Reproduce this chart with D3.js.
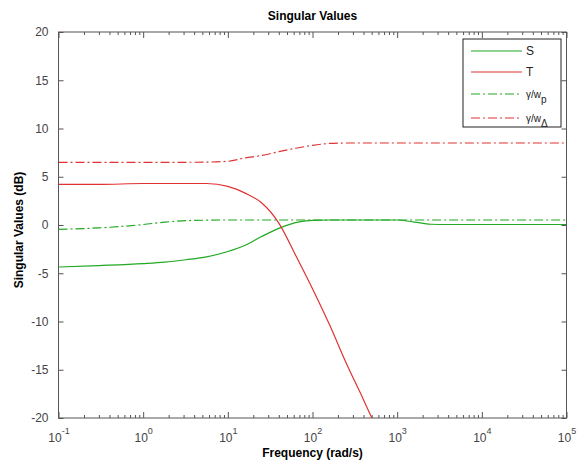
<!DOCTYPE html>
<html>
<head>
<meta charset="utf-8">
<script src="https://cdn.jsdelivr.net/npm/d3@7"></script>
<style>
  body { margin: 0; background: #fff; }
  svg text { font-family: "Liberation Sans", Arial, sans-serif; }
</style>
</head>
<body>
<div id="chart"></div>
<script>
// frequencies in rad/s, shared by all four curves
const freq = [0.1, 0.3, 1, 1.8, 3.2, 5.6, 10, 16, 25, 40, 63, 100, 160, 250, 400, 630, 1000, 1600, 2500, 4000, 10000, 100000]

// singular values in dB
const sVals   = [-4.35, -4.2, -4.0, -3.85, -3.6, -3.3, -2.75, -2.1, -1.2, -0.35, 0.25, 0.48, 0.52, 0.52, 0.52, 0.52, 0.52, 0.3, 0.08, 0.05, 0.05, 0.05]
const tVals   = [4.2, 4.2, 4.3, 4.3, 4.3, 4.3, 4.0, 3.3, 2.3, 0.2, -3.1, -6.6, -10.4, -14.3, -18.1, -21.9, -25.7, -29.5, -33.3, -37.1, -45, -64]
const wpVals  = [-0.45, -0.3, 0.05, 0.3, 0.45, 0.5, 0.52, 0.52, 0.52, 0.52, 0.52, 0.52, 0.52, 0.52, 0.52, 0.52, 0.52, 0.52, 0.52, 0.52, 0.52, 0.52]
const waVals  = [6.5, 6.5, 6.5, 6.5, 6.5, 6.52, 6.6, 6.95, 7.2, 7.6, 7.95, 8.25, 8.45, 8.5, 8.5, 8.5, 8.5, 8.5, 8.5, 8.5, 8.5, 8.5]

const seriesNames = ["S", "T", "γ/w_p", "γ/w_Δ"]
const xMajorTicks = [0.1, 1, 10, 100, 1000, 10000, 100000]
const yTicks = [-20, -15, -10, -5, 0, 5, 10, 15, 20]

const width = 584, height = 468
const margin = {top: 32, right: 17.5, bottom: 50, left: 58.5}
const innerW = width - margin.left - margin.right
const innerH = height - margin.top - margin.bottom

const green = "#22a822", red = "#e03333"
const series = [
    {name: seriesNames[0], vals: sVals,  color: green, dash: null},
    {name: seriesNames[1], vals: tVals,  color: red,   dash: null},
    {name: seriesNames[2], vals: wpVals, color: green, dash: "9,3,2,3"},
    {name: seriesNames[3], vals: waVals, color: red,   dash: "9,3,2,3"}
]

const svg = d3.select("#chart").append("svg")
    .attr("width", width)
    .attr("height", height)

const g = svg.append("g").attr("transform", `translate(${margin.left},${margin.top})`)

const x = d3.scaleLog().domain([0.1, 100000]).range([0, innerW])
const y = d3.scaleLinear().domain([-20, 20]).range([innerH, 0])

// minor ticks 2..9 per decade
const xMinorTicks = []
xMajorTicks.slice(0, -1).forEach(d => {
    for (let k = 2; k <= 9; k++) xMinorTicks.push(d * k)
})

const axisColor = "#555"
function styleAxis(sel) {
    sel.select(".domain").remove()
    sel.selectAll(".tick line").attr("stroke", axisColor)
}

// bottom + top ticks (inward)
g.append("g").attr("transform", `translate(0,${innerH})`)
    .call(d3.axisBottom(x).tickValues(xMinorTicks).tickSize(-3).tickFormat(""))
    .call(styleAxis)
g.append("g")
    .call(d3.axisTop(x).tickValues(xMinorTicks).tickSize(-3).tickFormat(""))
    .call(styleAxis)
g.append("g")
    .call(d3.axisTop(x).tickValues(xMajorTicks).tickSize(-6).tickFormat(""))
    .call(styleAxis)

const xAxis = g.append("g").attr("transform", `translate(0,${innerH})`)
    .call(d3.axisBottom(x).tickValues(xMajorTicks).tickSize(-6).tickPadding(0))
    .call(styleAxis)

xAxis.selectAll(".tick text").each(function(d) {
    const t = d3.select(this)
    t.text(null)
        .attr("y", 24)
        .attr("dy", null)
        .attr("font-size", 12)
        .attr("fill", "#444")
        .attr("text-anchor", "middle")
    t.append("tspan").text("10")
    t.append("tspan").text(String(Math.round(Math.log10(d))))
        .attr("font-size", 9)
        .attr("dy", -8)
})

// left + right ticks
g.append("g")
    .call(d3.axisLeft(y).tickValues(yTicks).tickSize(-5).tickPadding(10).tickFormat(d => String(d)))
    .call(styleAxis)
    .call(a => a.selectAll(".tick text").attr("font-size", 12).attr("fill", "#444"))
g.append("g").attr("transform", `translate(${innerW},0)`)
    .call(d3.axisRight(y).tickValues(yTicks).tickSize(-5).tickFormat(""))
    .call(styleAxis)

// frame
g.append("rect")
    .attr("width", innerW)
    .attr("height", innerH)
    .attr("fill", "none")
    .attr("stroke", axisColor)
    .attr("stroke-width", 1)

// clip lines to the plot area
svg.append("defs").append("clipPath").attr("id", "plotclip")
    .append("rect").attr("width", innerW).attr("height", innerH)

const line = d3.line()
    .x((d, i) => x(freq[i]))
    .y(d => y(d))
    .curve(d3.curveMonotoneX)

const lines = g.append("g").attr("clip-path", "url(#plotclip)")
lines.selectAll("path")
    .data(series)
    .join("path")
        .attr("d", d => line(d.vals))
        .attr("fill", "none")
        .attr("stroke", d => d.color)
        .attr("stroke-width", 1.2)
        .attr("stroke-dasharray", d => d.dash)

// legend
const legRows = [51, 72, 94, 118]
const legend = svg.append("g")
legend.append("rect")
    .attr("x", 463).attr("y", 39)
    .attr("width", 98).attr("height", 88)
    .attr("fill", "#fff")
    .attr("stroke", "#222")
    .attr("stroke-width", 1)

const legItems = legend.selectAll("g.item")
    .data(series)
    .join("g")
        .attr("class", "item")
        .attr("transform", (d, i) => `translate(471,${legRows[i]})`)

legItems.append("line")
    .attr("x1", 0).attr("x2", 51)
    .attr("stroke", d => d.color)
    .attr("stroke-width", 1.2)
    .attr("stroke-dasharray", d => d.dash)

legItems.append("text")
    .attr("x", 55)
    .attr("y", 4)
    .attr("font-size", 12)
    .attr("fill", "#222")
    .each(function(d) {
        const t = d3.select(this)
        const parts = d.name.split("_")
        t.append("tspan").text(parts[0]).attr("font-size", parts[1] ? 10 : 12)
        if (parts[1]) t.append("tspan").text(parts[1]).attr("dy", 5).attr("font-size", 10)
    })

// titles
svg.append("text")
    .attr("x", margin.left + innerW / 2)
    .attr("y", 20)
    .attr("text-anchor", "middle")
    .attr("font-weight", "bold")
    .attr("font-size", 12)
    .text("Singular Values")

svg.append("text")
    .attr("x", margin.left + innerW / 2)
    .attr("y", 457)
    .attr("text-anchor", "middle")
    .attr("font-weight", "bold")
    .attr("font-size", 12)
    .text("Frequency (rad/s)")

svg.append("text")
    .attr("transform", `translate(23,${margin.top + innerH / 2 + 5}) rotate(-90)`)
    .attr("text-anchor", "middle")
    .attr("font-weight", "bold")
    .attr("font-size", 12)
    .text("Singular Values (dB)")
</script>
</body>
</html>
